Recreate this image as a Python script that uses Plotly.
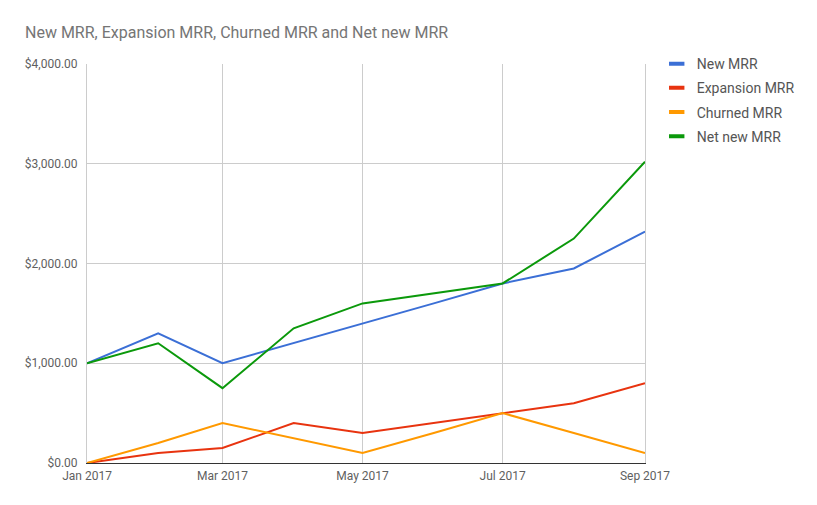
import plotly.graph_objects as go

months = ["2017-01-01", "2017-02-01", "2017-03-01", "2017-04-01", "2017-05-01",
          "2017-06-01", "2017-07-01", "2017-08-01", "2017-09-01"]
new_mrr = [1000, 1300, 1000, 1200, 1400, 1600, 1800, 1950, 2320]
expansion_mrr = [0, 100, 150, 400, 300, 400, 500, 600, 800]
churned_mrr = [0, 200, 400, 250, 100, 300, 500, 300, 100]
net_new_mrr = [1000, 1200, 750, 1350, 1600, 1700, 1800, 2250, 3020]

series = [
    ("New MRR", new_mrr, "#3b6fd6"),
    ("Expansion MRR", expansion_mrr, "#e8330f"),
    ("Churned MRR", churned_mrr, "#ff9900"),
    ("Net new MRR", net_new_mrr, "#0b990b"),
]

FONT = "Roboto"
fig = go.Figure()
for name, vals, color in series:
    fig.add_trace(go.Scatter(x=months, y=vals, mode="lines", name=name,
                             line=dict(color=color, width=2), showlegend=False,
                             hoverinfo="x+y+name"))
for i, (name, vals, color) in enumerate(series):
    fig.add_trace(go.Scatter(x=[None], y=[None], mode="markers", name=name,
                             legendgroup=f"g{i}",
                             marker=dict(symbol="line-ew-open", size=11, color=color,
                                         line=dict(color=color, width=4)),
                             showlegend=True))

fig.update_layout(
    width=817, height=505,
    margin=dict(l=79, r=180, t=56, b=50, autoexpand=False),
    paper_bgcolor="white", plot_bgcolor="white",
    font=dict(family=FONT, size=12, color="#5f5f5f"),
    title=dict(text="New MRR, Expansion MRR, Churned MRR and Net new MRR",
               x=17/817, xanchor="left", y=1-24/505, yanchor="middle",
               font=dict(family=FONT, size=16, color="#757575")),
    legend=dict(x=1.021, xanchor="left", y=1.04, yanchor="top",
                font=dict(family=FONT, size=14, color="#555555"),
                tracegroupgap=3, traceorder="grouped",
                bgcolor="rgba(0,0,0,0)"),
    xaxis=dict(type="date", range=["2017-01-01", "2017-09-01"],
               dtick="M2", tick0="2017-01-01", tickformat="%b %Y",
               showgrid=True, gridcolor="#cccccc", gridwidth=1,
               showline=True, linecolor="#333333", linewidth=1, mirror=False,
               zeroline=False, ticks="", ticklabelstandoff=2,
               tickfont=dict(family=FONT, size=12, color="#5f5f5f")),
    yaxis=dict(range=[0, 4000], dtick=1000, tickformat="$,.2f",
               showgrid=True, gridcolor="#cccccc", gridwidth=1,
               zeroline=False,
               showline=True, linecolor="#cccccc", linewidth=1, mirror=True,
               ticks="", ticklabelstandoff=6,
               tickfont=dict(family=FONT, size=12, color="#5f5f5f")),
)

fig.write_html("out.html")
